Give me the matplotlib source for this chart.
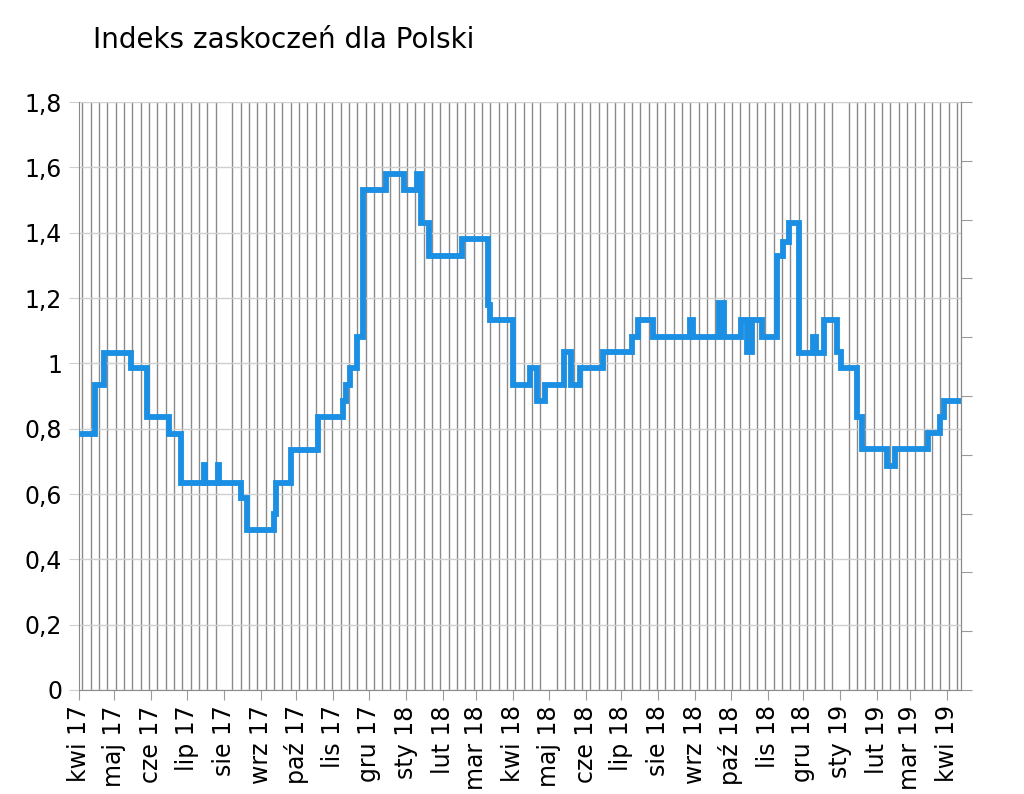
import datetime as dt
import matplotlib
matplotlib.use("Agg")
import matplotlib.pyplot as plt
import matplotlib.dates as mdates

# dates where the index changes level, and the level from that date on
change_dates = [
    "2017-04-01", "2017-04-15", "2017-04-22", "2017-05-15", "2017-05-28",
    "2017-06-16", "2017-06-26", "2017-07-15", "2017-07-16", "2017-07-27",
    "2017-07-28", "2017-08-15", "2017-08-20", "2017-09-12", "2017-09-14",
    "2017-09-26", "2017-10-19", "2017-11-09", "2017-11-12", "2017-11-15",
    "2017-11-21", "2017-11-26", "2017-12-15", "2017-12-30", "2018-01-10",
    "2018-01-14", "2018-01-20", "2018-02-17", "2018-03-11", "2018-03-13",
    "2018-04-01", "2018-04-15", "2018-04-21", "2018-04-28", "2018-05-14",
    "2018-05-20", "2018-05-27", "2018-06-16", "2018-07-10", "2018-07-15",
    "2018-07-28", "2018-08-28", "2018-08-30", "2018-09-21", "2018-09-25",
    "2018-10-10", "2018-10-15", "2018-10-19", "2018-10-27", "2018-11-09",
    "2018-11-14", "2018-11-19", "2018-11-27", "2018-12-09", "2018-12-12",
    "2018-12-18", "2018-12-29", "2019-01-02", "2019-01-15", "2019-01-19",
    "2019-02-09", "2019-02-16", "2019-03-16", "2019-03-26", "2019-03-29",
]
values = [
    0.785, 0.935, 1.033, 0.985, 0.835,
    0.785, 0.635, 0.69, 0.635, 0.69,
    0.635, 0.588, 0.49, 0.54, 0.635,
    0.735, 0.835, 0.885, 0.935, 0.985,
    1.08, 1.53, 1.58, 1.53, 1.58,
    1.43, 1.33, 1.38, 1.18, 1.133,
    0.935, 0.985, 0.885, 0.935, 1.035,
    0.935, 0.985, 1.035, 1.08, 1.133,
    1.08, 1.133, 1.08, 1.185, 1.08,
    1.133, 1.035, 1.133, 1.08, 1.33,
    1.37, 1.43, 1.033, 1.08, 1.033,
    1.133, 1.035, 0.985, 0.835, 0.738,
    0.685, 0.738, 0.786, 0.835, 0.885,
]
end_date = "2019-04-12"

month_names = ["sty", "lut", "mar", "kwi", "maj", "cze",
               "lip", "sie", "wrz", "paź", "lis", "gru"]
y_ticks = [0, 0.2, 0.4, 0.6, 0.8, 1.0, 1.2, 1.4, 1.6, 1.8]
y_labels = ["0", "0,2", "0,4", "0,6", "0,8", "1", "1,2", "1,4", "1,6", "1,8"]

dates = [dt.datetime.strptime(d, "%Y-%m-%d") for d in change_dates]
x = dates + [dt.datetime.strptime(end_date, "%Y-%m-%d")]
y = values + [values[-1]]

plt.rcParams["font.family"] = ["DejaVu Sans"]

fig = plt.figure(figsize=(10.24, 7.94), dpi=100)
ax = fig.add_axes([0.0769, 0.131, 0.8616, 0.7405])

ax.step(x, y, where="post", color="#1a8fe3", lw=4.2, solid_joinstyle="miter", zorder=3)

ax.set_xlim(dt.datetime(2017, 4, 1), dt.datetime(2019, 4, 12, 12))
ax.set_ylim(0, 1.8)

# weekly vertical grid, month labels
ax.xaxis.set_major_locator(mdates.MonthLocator())
ax.xaxis.set_major_formatter(plt.FuncFormatter(
    lambda v, p: "%s %s" % (month_names[mdates.num2date(v).month - 1],
                            mdates.num2date(v).strftime("%y"))))
ax.xaxis.set_minor_locator(mdates.WeekdayLocator(byweekday=mdates.TU))
ax.grid(which="minor", axis="x", color="#8a8a8a", lw=1.0)
ax.grid(which="major", axis="x", visible=False)
ax.tick_params(axis="x", which="major", direction="out", length=7, color="#9a9a9a",
               labelsize=17, labelrotation=90, pad=4)
ax.tick_params(axis="x", which="minor", length=0)

ax.set_yticks(y_ticks)
ax.set_yticklabels(y_labels)
ax.grid(axis="y", color="#cfcfcf", lw=1.0)
ax.tick_params(axis="y", direction="out", length=7, color="#cfcfcf",
               labelsize=17, pad=5)

for s in ["left", "bottom", "right"]:
    ax.spines[s].set_color("#8a8a8a")
ax.spines["top"].set_visible(False)

ax2 = ax.twinx()
ax2.set_ylim(0, 10)
ax2.set_yticks(range(11))
ax2.set_yticklabels([])
ax2.tick_params(axis="y", direction="out", length=8, color="#9a9a9a")
ax2.spines["right"].set_color("#8a8a8a")
ax2.spines["top"].set_visible(False)
ax2.spines["left"].set_visible(False)
ax2.spines["bottom"].set_visible(False)

fig.text(0.091, 0.949, "Indeks zaskoczeń dla Polski", fontsize=20, va="center", ha="left")

fig.savefig("out.png", dpi=100)
